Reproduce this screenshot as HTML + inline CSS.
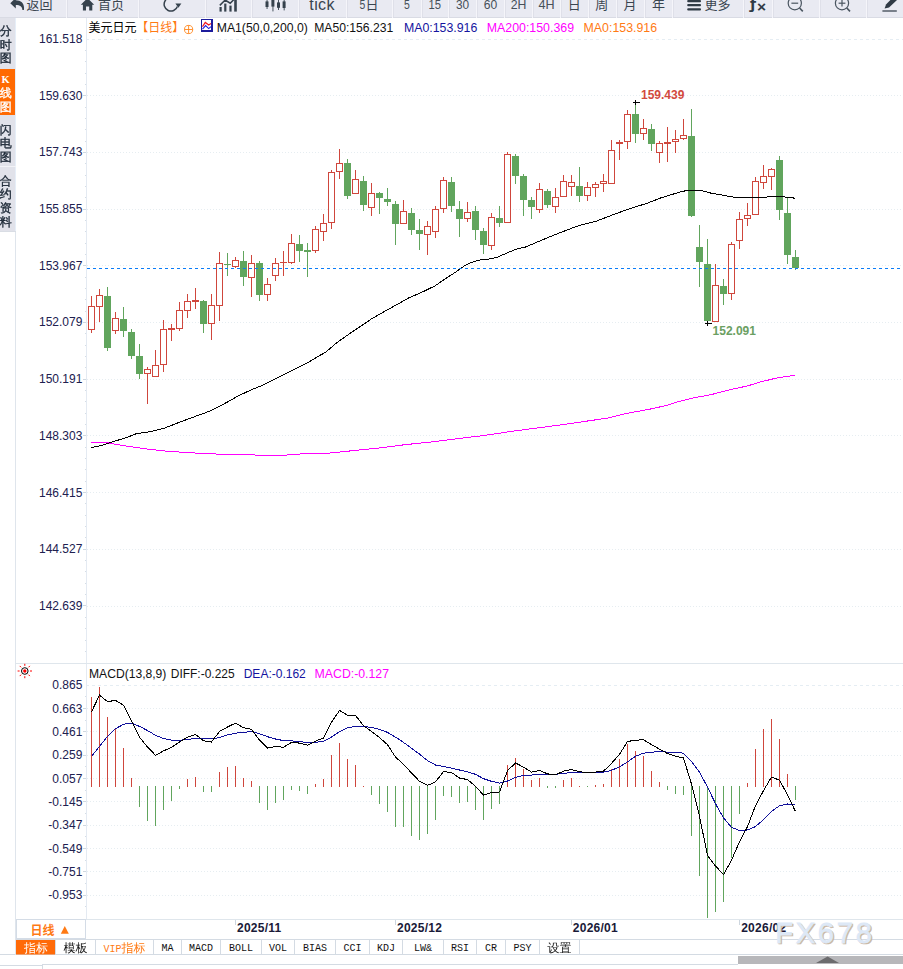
<!DOCTYPE html>
<html lang="zh-CN"><head><meta charset="utf-8"><title>美元日元 日线</title>
<style>
html,body{margin:0;padding:0;background:#fff;}
body{width:903px;height:969px;overflow:hidden;position:relative;font-family:'Liberation Sans','Noto Sans CJK SC',sans-serif;}
svg{position:absolute;left:0;top:0;display:block;}
text{white-space:pre;}
.ax{font:12px 'Liberation Sans','Noto Sans CJK SC',sans-serif;fill:#20204f;text-anchor:end;}
.tt{font:12.3px 'Liberation Sans','Noto Sans CJK SC',sans-serif;}
.tb{font:13px 'Liberation Sans','Noto Sans CJK SC',sans-serif;fill:#3a4550;}
.tn{font:13.4px 'Liberation Sans','Noto Sans CJK SC',sans-serif;fill:#465059;}
.sb{font:12px 'Liberation Mono','WenQuanYi Zen Hei','Noto Sans CJK SC',monospace;fill:#1c2836;stroke:#1c2836;stroke-width:.35px;}
.tab{font:10px 'Liberation Mono','WenQuanYi Zen Hei','Noto Sans CJK SC',monospace;fill:#111;text-anchor:middle;}
.tabc{font:12px 'Liberation Mono','WenQuanYi Zen Hei','Noto Sans CJK SC',monospace;fill:#111;text-anchor:middle;}
.dt{font:bold 12px 'Liberation Sans','Noto Sans CJK SC',sans-serif;fill:#1a1a38;letter-spacing:.25px;}
</style></head><body>
<svg width="903" height="969" viewBox="0 0 903 969">
<rect x="0" y="0" width="903" height="969" fill="#fff"/>
<g shape-rendering="crispEdges">
<line x1="86" y1="39.5" x2="903" y2="39.5" stroke="#e5edf3" stroke-width="1" stroke-dasharray="3 3"/>
<line x1="87" y1="95.5" x2="903" y2="95.5" stroke="#e6edf1" stroke-width="1" stroke-dasharray="1 2"/>
<line x1="87" y1="152.5" x2="903" y2="152.5" stroke="#e6edf1" stroke-width="1" stroke-dasharray="1 2"/>
<line x1="87" y1="209.5" x2="903" y2="209.5" stroke="#e6edf1" stroke-width="1" stroke-dasharray="1 2"/>
<line x1="87" y1="265.5" x2="903" y2="265.5" stroke="#e6edf1" stroke-width="1" stroke-dasharray="1 2"/>
<line x1="87" y1="322.5" x2="903" y2="322.5" stroke="#e6edf1" stroke-width="1" stroke-dasharray="1 2"/>
<line x1="87" y1="379.5" x2="903" y2="379.5" stroke="#e6edf1" stroke-width="1" stroke-dasharray="1 2"/>
<line x1="87" y1="435.5" x2="903" y2="435.5" stroke="#e6edf1" stroke-width="1" stroke-dasharray="1 2"/>
<line x1="87" y1="492.5" x2="903" y2="492.5" stroke="#e6edf1" stroke-width="1" stroke-dasharray="1 2"/>
<line x1="87" y1="549.5" x2="903" y2="549.5" stroke="#e6edf1" stroke-width="1" stroke-dasharray="1 2"/>
<line x1="87" y1="606.5" x2="903" y2="606.5" stroke="#e6edf1" stroke-width="1" stroke-dasharray="1 2"/>
<line x1="86" y1="685.5" x2="903" y2="685.5" stroke="#e5edf3" stroke-width="1" stroke-dasharray="3 3"/>
<line x1="87" y1="708.5" x2="903" y2="708.5" stroke="#e6edf1" stroke-width="1" stroke-dasharray="1 2"/>
<line x1="87" y1="731.5" x2="903" y2="731.5" stroke="#e6edf1" stroke-width="1" stroke-dasharray="1 2"/>
<line x1="87" y1="755.5" x2="903" y2="755.5" stroke="#e6edf1" stroke-width="1" stroke-dasharray="1 2"/>
<line x1="87" y1="778.5" x2="903" y2="778.5" stroke="#e6edf1" stroke-width="1" stroke-dasharray="1 2"/>
<line x1="87" y1="801.5" x2="903" y2="801.5" stroke="#e6edf1" stroke-width="1" stroke-dasharray="1 2"/>
<line x1="87" y1="825.5" x2="903" y2="825.5" stroke="#e6edf1" stroke-width="1" stroke-dasharray="1 2"/>
<line x1="87" y1="848.5" x2="903" y2="848.5" stroke="#e6edf1" stroke-width="1" stroke-dasharray="1 2"/>
<line x1="87" y1="871.5" x2="903" y2="871.5" stroke="#e6edf1" stroke-width="1" stroke-dasharray="1 2"/>
<line x1="87" y1="895.5" x2="903" y2="895.5" stroke="#e6edf1" stroke-width="1" stroke-dasharray="1 2"/>
<line x1="86.5" y1="18" x2="86.5" y2="919" stroke="#e4eaf2" stroke-width="1"/>
<line x1="85" y1="50.5" x2="86" y2="50.5" stroke="#d5dde5"/>
<line x1="85" y1="61.5" x2="86" y2="61.5" stroke="#d5dde5"/>
<line x1="85" y1="73.5" x2="86" y2="73.5" stroke="#d5dde5"/>
<line x1="85" y1="84.5" x2="86" y2="84.5" stroke="#d5dde5"/>
<line x1="83" y1="95.5" x2="86" y2="95.5" stroke="#cfd8e0"/>
<line x1="85" y1="107.5" x2="86" y2="107.5" stroke="#d5dde5"/>
<line x1="85" y1="118.5" x2="86" y2="118.5" stroke="#d5dde5"/>
<line x1="85" y1="129.5" x2="86" y2="129.5" stroke="#d5dde5"/>
<line x1="85" y1="141.5" x2="86" y2="141.5" stroke="#d5dde5"/>
<line x1="83" y1="152.5" x2="86" y2="152.5" stroke="#cfd8e0"/>
<line x1="85" y1="163.5" x2="86" y2="163.5" stroke="#d5dde5"/>
<line x1="85" y1="175.5" x2="86" y2="175.5" stroke="#d5dde5"/>
<line x1="85" y1="186.5" x2="86" y2="186.5" stroke="#d5dde5"/>
<line x1="85" y1="197.5" x2="86" y2="197.5" stroke="#d5dde5"/>
<line x1="83" y1="209.5" x2="86" y2="209.5" stroke="#cfd8e0"/>
<line x1="85" y1="220.5" x2="86" y2="220.5" stroke="#d5dde5"/>
<line x1="85" y1="231.5" x2="86" y2="231.5" stroke="#d5dde5"/>
<line x1="85" y1="243.5" x2="86" y2="243.5" stroke="#d5dde5"/>
<line x1="85" y1="254.5" x2="86" y2="254.5" stroke="#d5dde5"/>
<line x1="83" y1="265.5" x2="86" y2="265.5" stroke="#cfd8e0"/>
<line x1="85" y1="277.5" x2="86" y2="277.5" stroke="#d5dde5"/>
<line x1="85" y1="288.5" x2="86" y2="288.5" stroke="#d5dde5"/>
<line x1="85" y1="299.5" x2="86" y2="299.5" stroke="#d5dde5"/>
<line x1="85" y1="311.5" x2="86" y2="311.5" stroke="#d5dde5"/>
<line x1="83" y1="322.5" x2="86" y2="322.5" stroke="#cfd8e0"/>
<line x1="85" y1="333.5" x2="86" y2="333.5" stroke="#d5dde5"/>
<line x1="85" y1="345.5" x2="86" y2="345.5" stroke="#d5dde5"/>
<line x1="85" y1="356.5" x2="86" y2="356.5" stroke="#d5dde5"/>
<line x1="85" y1="367.5" x2="86" y2="367.5" stroke="#d5dde5"/>
<line x1="83" y1="379.5" x2="86" y2="379.5" stroke="#cfd8e0"/>
<line x1="85" y1="390.5" x2="86" y2="390.5" stroke="#d5dde5"/>
<line x1="85" y1="401.5" x2="86" y2="401.5" stroke="#d5dde5"/>
<line x1="85" y1="413.5" x2="86" y2="413.5" stroke="#d5dde5"/>
<line x1="85" y1="424.5" x2="86" y2="424.5" stroke="#d5dde5"/>
<line x1="83" y1="435.5" x2="86" y2="435.5" stroke="#cfd8e0"/>
<line x1="85" y1="447.5" x2="86" y2="447.5" stroke="#d5dde5"/>
<line x1="85" y1="458.5" x2="86" y2="458.5" stroke="#d5dde5"/>
<line x1="85" y1="469.5" x2="86" y2="469.5" stroke="#d5dde5"/>
<line x1="85" y1="481.5" x2="86" y2="481.5" stroke="#d5dde5"/>
<line x1="83" y1="492.5" x2="86" y2="492.5" stroke="#cfd8e0"/>
<line x1="85" y1="503.5" x2="86" y2="503.5" stroke="#d5dde5"/>
<line x1="85" y1="515.5" x2="86" y2="515.5" stroke="#d5dde5"/>
<line x1="85" y1="526.5" x2="86" y2="526.5" stroke="#d5dde5"/>
<line x1="85" y1="537.5" x2="86" y2="537.5" stroke="#d5dde5"/>
<line x1="83" y1="549.5" x2="86" y2="549.5" stroke="#cfd8e0"/>
<line x1="85" y1="560.5" x2="86" y2="560.5" stroke="#d5dde5"/>
<line x1="85" y1="571.5" x2="86" y2="571.5" stroke="#d5dde5"/>
<line x1="85" y1="583.5" x2="86" y2="583.5" stroke="#d5dde5"/>
<line x1="85" y1="594.5" x2="86" y2="594.5" stroke="#d5dde5"/>
<line x1="83" y1="605.5" x2="86" y2="605.5" stroke="#cfd8e0"/>
<line x1="85" y1="617.5" x2="86" y2="617.5" stroke="#d5dde5"/>
<line x1="85" y1="628.5" x2="86" y2="628.5" stroke="#d5dde5"/>
<line x1="85" y1="640.5" x2="86" y2="640.5" stroke="#d5dde5"/>
<line x1="85" y1="651.5" x2="86" y2="651.5" stroke="#d5dde5"/>
<line x1="85" y1="696.5" x2="86" y2="696.5" stroke="#d5dde5"/>
<line x1="83" y1="708.5" x2="86" y2="708.5" stroke="#cfd8e0"/>
<line x1="85" y1="720.5" x2="86" y2="720.5" stroke="#d5dde5"/>
<line x1="83" y1="731.5" x2="86" y2="731.5" stroke="#cfd8e0"/>
<line x1="85" y1="743.5" x2="86" y2="743.5" stroke="#d5dde5"/>
<line x1="83" y1="755.5" x2="86" y2="755.5" stroke="#cfd8e0"/>
<line x1="85" y1="766.5" x2="86" y2="766.5" stroke="#d5dde5"/>
<line x1="83" y1="778.5" x2="86" y2="778.5" stroke="#cfd8e0"/>
<line x1="85" y1="790.5" x2="86" y2="790.5" stroke="#d5dde5"/>
<line x1="83" y1="801.5" x2="86" y2="801.5" stroke="#cfd8e0"/>
<line x1="85" y1="813.5" x2="86" y2="813.5" stroke="#d5dde5"/>
<line x1="83" y1="825.5" x2="86" y2="825.5" stroke="#cfd8e0"/>
<line x1="85" y1="836.5" x2="86" y2="836.5" stroke="#d5dde5"/>
<line x1="83" y1="848.5" x2="86" y2="848.5" stroke="#cfd8e0"/>
<line x1="85" y1="860.5" x2="86" y2="860.5" stroke="#d5dde5"/>
<line x1="83" y1="871.5" x2="86" y2="871.5" stroke="#cfd8e0"/>
<line x1="85" y1="883.5" x2="86" y2="883.5" stroke="#d5dde5"/>
<line x1="83" y1="895.5" x2="86" y2="895.5" stroke="#cfd8e0"/>
<line x1="85" y1="906.5" x2="86" y2="906.5" stroke="#d5dde5"/>
<line x1="16" y1="663.5" x2="903" y2="663.5" stroke="#dfe6ec"/>
<line x1="16" y1="919.5" x2="903" y2="919.5" stroke="#dfe6ec"/>
<line x1="16" y1="939.5" x2="903" y2="939.5" stroke="#d4dbe3"/>
<line x1="0" y1="954.5" x2="903" y2="954.5" stroke="#d4dbe3"/>
<line x1="15.5" y1="231" x2="15.5" y2="955" stroke="#dfe5ec"/>
</g>
<g shape-rendering="crispEdges" stroke-width="1">
<line x1="91.5" y1="296" x2="91.5" y2="306" stroke="#cf463c"/>
<line x1="91.5" y1="330" x2="91.5" y2="333" stroke="#cf463c"/>
<rect x="88.5" y="306.5" width="6" height="23" fill="#fff" stroke="#cf463c"/>
<line x1="99.5" y1="289" x2="99.5" y2="295" stroke="#cf463c"/>
<line x1="99.5" y1="307" x2="99.5" y2="322" stroke="#cf463c"/>
<rect x="96.5" y="295.5" width="6" height="11" fill="#fff" stroke="#cf463c"/>
<line x1="107.5" y1="287" x2="107.5" y2="351" stroke="#61a55d"/>
<rect x="104" y="296" width="7" height="52" fill="#61a55d"/>
<line x1="115.5" y1="312" x2="115.5" y2="318" stroke="#cf463c"/>
<line x1="115.5" y1="331" x2="115.5" y2="334" stroke="#cf463c"/>
<rect x="112.5" y="318.5" width="6" height="12" fill="#fff" stroke="#cf463c"/>
<line x1="123.5" y1="307" x2="123.5" y2="337" stroke="#61a55d"/>
<rect x="120" y="319" width="7" height="12" fill="#61a55d"/>
<line x1="131.5" y1="329" x2="131.5" y2="359" stroke="#61a55d"/>
<rect x="128" y="332" width="7" height="24" fill="#61a55d"/>
<line x1="139.5" y1="344" x2="139.5" y2="379" stroke="#61a55d"/>
<rect x="136" y="356" width="7" height="18" fill="#61a55d"/>
<line x1="147.5" y1="367" x2="147.5" y2="369" stroke="#cf463c"/>
<line x1="147.5" y1="374" x2="147.5" y2="404" stroke="#cf463c"/>
<rect x="144.5" y="369.5" width="6" height="4" fill="#fff" stroke="#cf463c"/>
<line x1="155.5" y1="350" x2="155.5" y2="365" stroke="#cf463c"/>
<rect x="152.5" y="365.5" width="6" height="11" fill="#fff" stroke="#cf463c"/>
<line x1="163.5" y1="320" x2="163.5" y2="329" stroke="#cf463c"/>
<line x1="163.5" y1="365" x2="163.5" y2="372" stroke="#cf463c"/>
<rect x="160.5" y="329.5" width="6" height="35" fill="#fff" stroke="#cf463c"/>
<line x1="171.5" y1="324" x2="171.5" y2="328" stroke="#cf463c"/>
<line x1="171.5" y1="330" x2="171.5" y2="341" stroke="#cf463c"/>
<rect x="168" y="328" width="7" height="2" fill="#cf463c"/>
<line x1="179.5" y1="302" x2="179.5" y2="310" stroke="#cf463c"/>
<line x1="179.5" y1="329" x2="179.5" y2="331" stroke="#cf463c"/>
<rect x="176.5" y="310.5" width="6" height="18" fill="#fff" stroke="#cf463c"/>
<line x1="187.5" y1="294" x2="187.5" y2="301" stroke="#cf463c"/>
<line x1="187.5" y1="311" x2="187.5" y2="318" stroke="#cf463c"/>
<rect x="184.5" y="301.5" width="6" height="9" fill="#fff" stroke="#cf463c"/>
<line x1="195.5" y1="288" x2="195.5" y2="300" stroke="#cf463c"/>
<line x1="195.5" y1="302" x2="195.5" y2="309" stroke="#cf463c"/>
<rect x="192" y="300" width="7" height="2" fill="#cf463c"/>
<line x1="203.5" y1="300" x2="203.5" y2="333" stroke="#61a55d"/>
<rect x="200" y="301" width="7" height="23" fill="#61a55d"/>
<line x1="211.5" y1="294" x2="211.5" y2="305" stroke="#cf463c"/>
<line x1="211.5" y1="324" x2="211.5" y2="340" stroke="#cf463c"/>
<rect x="208.5" y="305.5" width="6" height="18" fill="#fff" stroke="#cf463c"/>
<line x1="219.5" y1="252" x2="219.5" y2="263" stroke="#cf463c"/>
<line x1="219.5" y1="306" x2="219.5" y2="321" stroke="#cf463c"/>
<rect x="216.5" y="263.5" width="6" height="42" fill="#fff" stroke="#cf463c"/>
<line x1="227.5" y1="253" x2="227.5" y2="276" stroke="#61a55d"/>
<rect x="224" y="264" width="7" height="1" fill="#61a55d"/>
<line x1="235.5" y1="257" x2="235.5" y2="260" stroke="#cf463c"/>
<line x1="235.5" y1="267" x2="235.5" y2="268" stroke="#cf463c"/>
<rect x="232.5" y="260.5" width="6" height="6" fill="#fff" stroke="#cf463c"/>
<line x1="243.5" y1="251" x2="243.5" y2="286" stroke="#61a55d"/>
<rect x="240" y="261" width="7" height="16" fill="#61a55d"/>
<line x1="251.5" y1="255" x2="251.5" y2="263" stroke="#cf463c"/>
<line x1="251.5" y1="278" x2="251.5" y2="297" stroke="#cf463c"/>
<rect x="248.5" y="263.5" width="6" height="14" fill="#fff" stroke="#cf463c"/>
<line x1="259.5" y1="261" x2="259.5" y2="301" stroke="#61a55d"/>
<rect x="256" y="263" width="7" height="32" fill="#61a55d"/>
<line x1="267.5" y1="278" x2="267.5" y2="284" stroke="#cf463c"/>
<line x1="267.5" y1="295" x2="267.5" y2="301" stroke="#cf463c"/>
<rect x="264.5" y="284.5" width="6" height="10" fill="#fff" stroke="#cf463c"/>
<line x1="275.5" y1="258" x2="275.5" y2="263" stroke="#cf463c"/>
<line x1="275.5" y1="276" x2="275.5" y2="281" stroke="#cf463c"/>
<rect x="272.5" y="263.5" width="6" height="12" fill="#fff" stroke="#cf463c"/>
<line x1="283.5" y1="251" x2="283.5" y2="262" stroke="#cf463c"/>
<line x1="283.5" y1="263" x2="283.5" y2="276" stroke="#cf463c"/>
<rect x="280" y="262" width="7" height="1" fill="#cf463c"/>
<line x1="291.5" y1="234" x2="291.5" y2="243" stroke="#cf463c"/>
<line x1="291.5" y1="263" x2="291.5" y2="264" stroke="#cf463c"/>
<rect x="288.5" y="243.5" width="6" height="19" fill="#fff" stroke="#cf463c"/>
<line x1="299.5" y1="235" x2="299.5" y2="262" stroke="#61a55d"/>
<rect x="296" y="244" width="7" height="7" fill="#61a55d"/>
<line x1="307.5" y1="243" x2="307.5" y2="277" stroke="#61a55d"/>
<rect x="304" y="250" width="7" height="2" fill="#61a55d"/>
<line x1="315.5" y1="226" x2="315.5" y2="229" stroke="#cf463c"/>
<line x1="315.5" y1="251" x2="315.5" y2="253" stroke="#cf463c"/>
<rect x="312.5" y="229.5" width="6" height="21" fill="#fff" stroke="#cf463c"/>
<line x1="323.5" y1="214" x2="323.5" y2="223" stroke="#cf463c"/>
<line x1="323.5" y1="232" x2="323.5" y2="241" stroke="#cf463c"/>
<rect x="320.5" y="223.5" width="6" height="8" fill="#fff" stroke="#cf463c"/>
<line x1="331.5" y1="170" x2="331.5" y2="172" stroke="#cf463c"/>
<line x1="331.5" y1="223" x2="331.5" y2="229" stroke="#cf463c"/>
<rect x="328.5" y="172.5" width="6" height="50" fill="#fff" stroke="#cf463c"/>
<line x1="339.5" y1="149" x2="339.5" y2="163" stroke="#cf463c"/>
<line x1="339.5" y1="172" x2="339.5" y2="179" stroke="#cf463c"/>
<rect x="336.5" y="163.5" width="6" height="8" fill="#fff" stroke="#cf463c"/>
<line x1="347.5" y1="159" x2="347.5" y2="199" stroke="#61a55d"/>
<rect x="344" y="163" width="7" height="33" fill="#61a55d"/>
<line x1="355.5" y1="170" x2="355.5" y2="179" stroke="#cf463c"/>
<rect x="352.5" y="179.5" width="6" height="14" fill="#fff" stroke="#cf463c"/>
<line x1="363.5" y1="176" x2="363.5" y2="211" stroke="#61a55d"/>
<rect x="360" y="181" width="7" height="24" fill="#61a55d"/>
<line x1="371.5" y1="183" x2="371.5" y2="193" stroke="#cf463c"/>
<line x1="371.5" y1="208" x2="371.5" y2="216" stroke="#cf463c"/>
<rect x="368.5" y="193.5" width="6" height="14" fill="#fff" stroke="#cf463c"/>
<line x1="379.5" y1="192" x2="379.5" y2="214" stroke="#61a55d"/>
<rect x="376" y="193" width="7" height="5" fill="#61a55d"/>
<line x1="387.5" y1="188" x2="387.5" y2="206" stroke="#61a55d"/>
<rect x="384" y="199" width="7" height="3" fill="#61a55d"/>
<line x1="395.5" y1="201" x2="395.5" y2="245" stroke="#61a55d"/>
<rect x="392" y="204" width="7" height="20" fill="#61a55d"/>
<line x1="403.5" y1="200" x2="403.5" y2="211" stroke="#cf463c"/>
<rect x="400.5" y="211.5" width="6" height="12" fill="#fff" stroke="#cf463c"/>
<line x1="411.5" y1="208" x2="411.5" y2="235" stroke="#61a55d"/>
<rect x="408" y="213" width="7" height="17" fill="#61a55d"/>
<line x1="419.5" y1="219" x2="419.5" y2="250" stroke="#61a55d"/>
<rect x="416" y="230" width="7" height="4" fill="#61a55d"/>
<line x1="427.5" y1="221" x2="427.5" y2="226" stroke="#cf463c"/>
<line x1="427.5" y1="235" x2="427.5" y2="255" stroke="#cf463c"/>
<rect x="424.5" y="226.5" width="6" height="8" fill="#fff" stroke="#cf463c"/>
<line x1="435.5" y1="206" x2="435.5" y2="209" stroke="#cf463c"/>
<line x1="435.5" y1="232" x2="435.5" y2="238" stroke="#cf463c"/>
<rect x="432.5" y="209.5" width="6" height="22" fill="#fff" stroke="#cf463c"/>
<line x1="443.5" y1="177" x2="443.5" y2="180" stroke="#cf463c"/>
<line x1="443.5" y1="209" x2="443.5" y2="213" stroke="#cf463c"/>
<rect x="440.5" y="180.5" width="6" height="28" fill="#fff" stroke="#cf463c"/>
<line x1="451.5" y1="177" x2="451.5" y2="212" stroke="#61a55d"/>
<rect x="448" y="182" width="7" height="24" fill="#61a55d"/>
<line x1="459.5" y1="201" x2="459.5" y2="237" stroke="#61a55d"/>
<rect x="456" y="209" width="7" height="10" fill="#61a55d"/>
<line x1="467.5" y1="202" x2="467.5" y2="212" stroke="#cf463c"/>
<line x1="467.5" y1="219" x2="467.5" y2="222" stroke="#cf463c"/>
<rect x="464.5" y="212.5" width="6" height="6" fill="#fff" stroke="#cf463c"/>
<line x1="475.5" y1="206" x2="475.5" y2="240" stroke="#61a55d"/>
<rect x="472" y="211" width="7" height="19" fill="#61a55d"/>
<line x1="483.5" y1="228" x2="483.5" y2="254" stroke="#61a55d"/>
<rect x="480" y="231" width="7" height="14" fill="#61a55d"/>
<line x1="491.5" y1="213" x2="491.5" y2="217" stroke="#cf463c"/>
<line x1="491.5" y1="246" x2="491.5" y2="250" stroke="#cf463c"/>
<rect x="488.5" y="217.5" width="6" height="28" fill="#fff" stroke="#cf463c"/>
<line x1="499.5" y1="206" x2="499.5" y2="227" stroke="#61a55d"/>
<rect x="496" y="218" width="7" height="5" fill="#61a55d"/>
<line x1="507.5" y1="152" x2="507.5" y2="154" stroke="#cf463c"/>
<rect x="504.5" y="154.5" width="6" height="68" fill="#fff" stroke="#cf463c"/>
<line x1="515.5" y1="154" x2="515.5" y2="184" stroke="#61a55d"/>
<rect x="512" y="156" width="7" height="20" fill="#61a55d"/>
<line x1="523.5" y1="174" x2="523.5" y2="216" stroke="#61a55d"/>
<rect x="520" y="176" width="7" height="24" fill="#61a55d"/>
<line x1="531.5" y1="197" x2="531.5" y2="219" stroke="#61a55d"/>
<rect x="528" y="200" width="7" height="7" fill="#61a55d"/>
<line x1="539.5" y1="183" x2="539.5" y2="189" stroke="#cf463c"/>
<line x1="539.5" y1="210" x2="539.5" y2="213" stroke="#cf463c"/>
<rect x="536.5" y="189.5" width="6" height="20" fill="#fff" stroke="#cf463c"/>
<line x1="547.5" y1="189" x2="547.5" y2="208" stroke="#61a55d"/>
<rect x="544" y="191" width="7" height="14" fill="#61a55d"/>
<line x1="555.5" y1="188" x2="555.5" y2="197" stroke="#cf463c"/>
<line x1="555.5" y1="207" x2="555.5" y2="213" stroke="#cf463c"/>
<rect x="552.5" y="197.5" width="6" height="9" fill="#fff" stroke="#cf463c"/>
<line x1="563.5" y1="175" x2="563.5" y2="181" stroke="#cf463c"/>
<rect x="560.5" y="181.5" width="6" height="15" fill="#fff" stroke="#cf463c"/>
<line x1="571.5" y1="175" x2="571.5" y2="182" stroke="#cf463c"/>
<line x1="571.5" y1="187" x2="571.5" y2="196" stroke="#cf463c"/>
<rect x="568.5" y="182.5" width="6" height="4" fill="#fff" stroke="#cf463c"/>
<line x1="579.5" y1="167" x2="579.5" y2="202" stroke="#61a55d"/>
<rect x="576" y="186" width="7" height="10" fill="#61a55d"/>
<line x1="587.5" y1="182" x2="587.5" y2="187" stroke="#cf463c"/>
<line x1="587.5" y1="196" x2="587.5" y2="201" stroke="#cf463c"/>
<rect x="584.5" y="187.5" width="6" height="8" fill="#fff" stroke="#cf463c"/>
<line x1="595.5" y1="182" x2="595.5" y2="184" stroke="#cf463c"/>
<line x1="595.5" y1="188" x2="595.5" y2="197" stroke="#cf463c"/>
<rect x="592.5" y="184.5" width="6" height="3" fill="#fff" stroke="#cf463c"/>
<line x1="603.5" y1="174" x2="603.5" y2="181" stroke="#cf463c"/>
<line x1="603.5" y1="184" x2="603.5" y2="192" stroke="#cf463c"/>
<rect x="600.5" y="181.5" width="6" height="2" fill="#fff" stroke="#cf463c"/>
<line x1="611.5" y1="140" x2="611.5" y2="150" stroke="#cf463c"/>
<rect x="608.5" y="150.5" width="6" height="33" fill="#fff" stroke="#cf463c"/>
<line x1="619.5" y1="140" x2="619.5" y2="142" stroke="#cf463c"/>
<line x1="619.5" y1="144" x2="619.5" y2="160" stroke="#cf463c"/>
<rect x="616" y="142" width="7" height="2" fill="#cf463c"/>
<line x1="627.5" y1="110" x2="627.5" y2="114" stroke="#cf463c"/>
<line x1="627.5" y1="142" x2="627.5" y2="149" stroke="#cf463c"/>
<rect x="624.5" y="114.5" width="6" height="27" fill="#fff" stroke="#cf463c"/>
<line x1="635.5" y1="102" x2="635.5" y2="143" stroke="#61a55d"/>
<rect x="632" y="114" width="7" height="20" fill="#61a55d"/>
<line x1="643.5" y1="119" x2="643.5" y2="128" stroke="#cf463c"/>
<line x1="643.5" y1="134" x2="643.5" y2="140" stroke="#cf463c"/>
<rect x="640.5" y="128.5" width="6" height="5" fill="#fff" stroke="#cf463c"/>
<line x1="651.5" y1="124" x2="651.5" y2="151" stroke="#61a55d"/>
<rect x="648" y="129" width="7" height="15" fill="#61a55d"/>
<line x1="659.5" y1="141" x2="659.5" y2="143" stroke="#cf463c"/>
<line x1="659.5" y1="153" x2="659.5" y2="163" stroke="#cf463c"/>
<rect x="656.5" y="143.5" width="6" height="9" fill="#fff" stroke="#cf463c"/>
<line x1="667.5" y1="127" x2="667.5" y2="142" stroke="#cf463c"/>
<line x1="667.5" y1="144" x2="667.5" y2="162" stroke="#cf463c"/>
<rect x="664" y="142" width="7" height="2" fill="#cf463c"/>
<line x1="675.5" y1="130" x2="675.5" y2="139" stroke="#cf463c"/>
<line x1="675.5" y1="142" x2="675.5" y2="153" stroke="#cf463c"/>
<rect x="672.5" y="139.5" width="6" height="2" fill="#fff" stroke="#cf463c"/>
<line x1="683.5" y1="119" x2="683.5" y2="135" stroke="#cf463c"/>
<line x1="683.5" y1="139" x2="683.5" y2="140" stroke="#cf463c"/>
<rect x="680.5" y="135.5" width="6" height="3" fill="#fff" stroke="#cf463c"/>
<line x1="691.5" y1="109" x2="691.5" y2="217" stroke="#61a55d"/>
<rect x="688" y="136" width="7" height="80" fill="#61a55d"/>
<line x1="699.5" y1="225" x2="699.5" y2="287" stroke="#61a55d"/>
<rect x="696" y="247" width="7" height="15" fill="#61a55d"/>
<line x1="707.5" y1="239" x2="707.5" y2="321" stroke="#61a55d"/>
<rect x="704" y="264" width="7" height="57" fill="#61a55d"/>
<line x1="715.5" y1="264" x2="715.5" y2="285" stroke="#cf463c"/>
<rect x="712.5" y="285.5" width="6" height="36" fill="#fff" stroke="#cf463c"/>
<line x1="723.5" y1="279" x2="723.5" y2="305" stroke="#61a55d"/>
<rect x="720" y="286" width="7" height="8" fill="#61a55d"/>
<line x1="731.5" y1="242" x2="731.5" y2="244" stroke="#cf463c"/>
<line x1="731.5" y1="294" x2="731.5" y2="300" stroke="#cf463c"/>
<rect x="728.5" y="244.5" width="6" height="49" fill="#fff" stroke="#cf463c"/>
<line x1="739.5" y1="212" x2="739.5" y2="219" stroke="#cf463c"/>
<line x1="739.5" y1="241" x2="739.5" y2="249" stroke="#cf463c"/>
<rect x="736.5" y="219.5" width="6" height="21" fill="#fff" stroke="#cf463c"/>
<line x1="747.5" y1="203" x2="747.5" y2="215" stroke="#cf463c"/>
<line x1="747.5" y1="219" x2="747.5" y2="226" stroke="#cf463c"/>
<rect x="744.5" y="215.5" width="6" height="3" fill="#fff" stroke="#cf463c"/>
<line x1="755.5" y1="177" x2="755.5" y2="181" stroke="#cf463c"/>
<rect x="752.5" y="181.5" width="6" height="33" fill="#fff" stroke="#cf463c"/>
<line x1="763.5" y1="165" x2="763.5" y2="176" stroke="#cf463c"/>
<line x1="763.5" y1="183" x2="763.5" y2="189" stroke="#cf463c"/>
<rect x="760.5" y="176.5" width="6" height="6" fill="#fff" stroke="#cf463c"/>
<line x1="771.5" y1="168" x2="771.5" y2="169" stroke="#cf463c"/>
<line x1="771.5" y1="177" x2="771.5" y2="190" stroke="#cf463c"/>
<rect x="768.5" y="169.5" width="6" height="7" fill="#fff" stroke="#cf463c"/>
<line x1="779.5" y1="156" x2="779.5" y2="220" stroke="#61a55d"/>
<rect x="776" y="160" width="7" height="50" fill="#61a55d"/>
<line x1="787.5" y1="198" x2="787.5" y2="264" stroke="#61a55d"/>
<rect x="784" y="213" width="7" height="42" fill="#61a55d"/>
<line x1="795.5" y1="250" x2="795.5" y2="270" stroke="#61a55d"/>
<rect x="792" y="257" width="7" height="11" fill="#61a55d"/>
</g>
<polyline fill="none" stroke="#000" stroke-width="1" shape-rendering="crispEdges" points="91.3,447.6 101.9,445.5 112.6,441.8 125.9,437.8 136.5,433.6 149.8,431.7 164.4,428.2 179,422.4 195,416.5 209.6,411.2 224.2,403.8 237.5,396.3 250.8,390 261.4,385.7 277.4,377.7 293.3,369.8 309.3,361.8 319.9,355.4 326,352 336.6,342.8 349.9,333.5 360.6,326.3 371.2,319.1 381.8,313 395.1,305.6 408.4,298.1 421.7,292.3 435,285.9 445.6,278.5 456.2,271.8 464.2,266 470.9,262.5 480.2,259.9 490.8,258.8 497.4,257.2 509.4,251.9 517.4,248.7 525.3,247.1 536,242.6 546.6,238.1 557.2,233.8 566,230.4 579.9,225.2 596.7,221 613.4,214.6 630.1,208.5 646.8,203.4 660.8,197.9 671.9,194.5 683.1,191.2 689,190.4 701,190.4 710.9,193.1 722.1,195.1 736,197.5 766.3,197.5 767.6,196.4 783.7,196.4 785,197.1 791.8,197.4 795.1,198.6"/>
<polyline fill="none" stroke="#ff00ff" stroke-width="1" shape-rendering="crispEdges" points="91.3,442.1 104.6,442.3 115.2,444.2 131.2,446.8 147.1,449 165.7,451.1 184.3,452.4 202.9,453.5 224.2,454.3 245.5,454.6 264.1,455.4 285.3,455.4 288,454.6 303.9,453.8 326,453.4 352.6,450.7 379.2,448 405.7,444.6 432.3,441.9 458.9,438.5 485.5,435.3 512,431.3 538.6,427.8 566,424.2 588.3,420.9 607.8,418.1 627.3,413.3 649.6,409.2 666.3,405.5 677.5,401.9 694.2,397.7 710.9,394.7 727.7,390.2 747.2,386 761.1,381.8 777.9,377.7 794.6,375.4"/>
<line x1="87" y1="268.5" x2="903" y2="268.5" stroke="#0a7cf7" stroke-width="1" stroke-dasharray="3 3" shape-rendering="crispEdges"/>
<g stroke="#000" stroke-width="1" shape-rendering="crispEdges">
<line x1="633" y1="102.5" x2="640" y2="102.5"/><line x1="635.5" y1="100" x2="635.5" y2="105"/>
<line x1="705" y1="323.5" x2="712" y2="323.5"/><line x1="707.5" y1="321" x2="707.5" y2="326"/>
</g>
<text x="641" y="99.3" style="font:bold 12px 'Liberation Sans','Noto Sans CJK SC',sans-serif;fill:#d24a3e">159.439</text>
<text x="712.6" y="335.2" style="font:bold 12px 'Liberation Sans','Noto Sans CJK SC',sans-serif;fill:#6ba062">152.091</text>
<g shape-rendering="crispEdges" stroke-width="1">
<line x1="91.5" y1="697" x2="91.5" y2="787" stroke="#cf463c"/>
<line x1="99.5" y1="687" x2="99.5" y2="787" stroke="#cf463c"/>
<line x1="107.5" y1="717" x2="107.5" y2="787" stroke="#cf463c"/>
<line x1="115.5" y1="728" x2="115.5" y2="787" stroke="#cf463c"/>
<line x1="123.5" y1="748" x2="123.5" y2="787" stroke="#cf463c"/>
<line x1="131.5" y1="778" x2="131.5" y2="787" stroke="#cf463c"/>
<line x1="139.5" y1="786" x2="139.5" y2="807" stroke="#61a55d"/>
<line x1="147.5" y1="786" x2="147.5" y2="821" stroke="#61a55d"/>
<line x1="155.5" y1="786" x2="155.5" y2="826" stroke="#61a55d"/>
<line x1="163.5" y1="786" x2="163.5" y2="810" stroke="#61a55d"/>
<line x1="171.5" y1="786" x2="171.5" y2="801" stroke="#61a55d"/>
<line x1="179.5" y1="786" x2="179.5" y2="789" stroke="#61a55d"/>
<line x1="187.5" y1="779" x2="187.5" y2="787" stroke="#cf463c"/>
<line x1="195.5" y1="777" x2="195.5" y2="787" stroke="#cf463c"/>
<line x1="203.5" y1="786" x2="203.5" y2="792" stroke="#61a55d"/>
<line x1="211.5" y1="786" x2="211.5" y2="792" stroke="#61a55d"/>
<line x1="219.5" y1="772" x2="219.5" y2="787" stroke="#cf463c"/>
<line x1="227.5" y1="767" x2="227.5" y2="787" stroke="#cf463c"/>
<line x1="235.5" y1="766" x2="235.5" y2="787" stroke="#cf463c"/>
<line x1="243.5" y1="778" x2="243.5" y2="787" stroke="#cf463c"/>
<line x1="251.5" y1="781" x2="251.5" y2="787" stroke="#cf463c"/>
<line x1="259.5" y1="786" x2="259.5" y2="803" stroke="#61a55d"/>
<line x1="267.5" y1="786" x2="267.5" y2="810" stroke="#61a55d"/>
<line x1="275.5" y1="786" x2="275.5" y2="803" stroke="#61a55d"/>
<line x1="283.5" y1="786" x2="283.5" y2="800" stroke="#61a55d"/>
<line x1="291.5" y1="786" x2="291.5" y2="790" stroke="#61a55d"/>
<line x1="299.5" y1="786" x2="299.5" y2="791" stroke="#61a55d"/>
<line x1="307.5" y1="786" x2="307.5" y2="794" stroke="#61a55d"/>
<line x1="315.5" y1="784" x2="315.5" y2="787" stroke="#cf463c"/>
<line x1="323.5" y1="779" x2="323.5" y2="787" stroke="#cf463c"/>
<line x1="331.5" y1="755" x2="331.5" y2="787" stroke="#cf463c"/>
<line x1="339.5" y1="743" x2="339.5" y2="787" stroke="#cf463c"/>
<line x1="347.5" y1="759" x2="347.5" y2="787" stroke="#cf463c"/>
<line x1="355.5" y1="765" x2="355.5" y2="787" stroke="#cf463c"/>
<line x1="363.5" y1="786" x2="363.5" y2="787" stroke="#cf463c"/>
<line x1="371.5" y1="786" x2="371.5" y2="795" stroke="#61a55d"/>
<line x1="379.5" y1="786" x2="379.5" y2="804" stroke="#61a55d"/>
<line x1="387.5" y1="786" x2="387.5" y2="812" stroke="#61a55d"/>
<line x1="395.5" y1="786" x2="395.5" y2="827" stroke="#61a55d"/>
<line x1="403.5" y1="786" x2="403.5" y2="827" stroke="#61a55d"/>
<line x1="411.5" y1="786" x2="411.5" y2="836" stroke="#61a55d"/>
<line x1="419.5" y1="786" x2="419.5" y2="840" stroke="#61a55d"/>
<line x1="427.5" y1="786" x2="427.5" y2="834" stroke="#61a55d"/>
<line x1="435.5" y1="786" x2="435.5" y2="820" stroke="#61a55d"/>
<line x1="443.5" y1="786" x2="443.5" y2="796" stroke="#61a55d"/>
<line x1="451.5" y1="786" x2="451.5" y2="797" stroke="#61a55d"/>
<line x1="459.5" y1="786" x2="459.5" y2="803" stroke="#61a55d"/>
<line x1="467.5" y1="786" x2="467.5" y2="802" stroke="#61a55d"/>
<line x1="475.5" y1="786" x2="475.5" y2="810" stroke="#61a55d"/>
<line x1="483.5" y1="786" x2="483.5" y2="820" stroke="#61a55d"/>
<line x1="491.5" y1="786" x2="491.5" y2="809" stroke="#61a55d"/>
<line x1="499.5" y1="786" x2="499.5" y2="804" stroke="#61a55d"/>
<line x1="507.5" y1="765" x2="507.5" y2="787" stroke="#cf463c"/>
<line x1="515.5" y1="758" x2="515.5" y2="787" stroke="#cf463c"/>
<line x1="523.5" y1="769" x2="523.5" y2="787" stroke="#cf463c"/>
<line x1="531.5" y1="780" x2="531.5" y2="787" stroke="#cf463c"/>
<line x1="539.5" y1="778" x2="539.5" y2="787" stroke="#cf463c"/>
<line x1="547.5" y1="786" x2="547.5" y2="788" stroke="#61a55d"/>
<line x1="555.5" y1="786" x2="555.5" y2="788" stroke="#61a55d"/>
<line x1="563.5" y1="780" x2="563.5" y2="787" stroke="#cf463c"/>
<line x1="571.5" y1="778" x2="571.5" y2="787" stroke="#cf463c"/>
<line x1="579.5" y1="786" x2="579.5" y2="787" stroke="#cf463c"/>
<line x1="587.5" y1="786" x2="587.5" y2="787" stroke="#61a55d"/>
<line x1="595.5" y1="785" x2="595.5" y2="787" stroke="#cf463c"/>
<line x1="603.5" y1="784" x2="603.5" y2="787" stroke="#cf463c"/>
<line x1="611.5" y1="769" x2="611.5" y2="787" stroke="#cf463c"/>
<line x1="619.5" y1="759" x2="619.5" y2="787" stroke="#cf463c"/>
<line x1="627.5" y1="744" x2="627.5" y2="787" stroke="#cf463c"/>
<line x1="635.5" y1="751" x2="635.5" y2="787" stroke="#cf463c"/>
<line x1="643.5" y1="756" x2="643.5" y2="787" stroke="#cf463c"/>
<line x1="651.5" y1="771" x2="651.5" y2="787" stroke="#cf463c"/>
<line x1="659.5" y1="782" x2="659.5" y2="787" stroke="#cf463c"/>
<line x1="667.5" y1="786" x2="667.5" y2="790" stroke="#61a55d"/>
<line x1="675.5" y1="786" x2="675.5" y2="794" stroke="#61a55d"/>
<line x1="683.5" y1="786" x2="683.5" y2="795" stroke="#61a55d"/>
<line x1="691.5" y1="786" x2="691.5" y2="836" stroke="#61a55d"/>
<line x1="699.5" y1="786" x2="699.5" y2="876" stroke="#61a55d"/>
<line x1="707.5" y1="786" x2="707.5" y2="918" stroke="#61a55d"/>
<line x1="715.5" y1="786" x2="715.5" y2="912" stroke="#61a55d"/>
<line x1="723.5" y1="786" x2="723.5" y2="902" stroke="#61a55d"/>
<line x1="731.5" y1="786" x2="731.5" y2="858" stroke="#61a55d"/>
<line x1="739.5" y1="786" x2="739.5" y2="814" stroke="#61a55d"/>
<line x1="747.5" y1="783" x2="747.5" y2="787" stroke="#cf463c"/>
<line x1="755.5" y1="749" x2="755.5" y2="787" stroke="#cf463c"/>
<line x1="763.5" y1="729" x2="763.5" y2="787" stroke="#cf463c"/>
<line x1="771.5" y1="719" x2="771.5" y2="787" stroke="#cf463c"/>
<line x1="779.5" y1="739" x2="779.5" y2="787" stroke="#cf463c"/>
<line x1="787.5" y1="774" x2="787.5" y2="787" stroke="#cf463c"/>
<line x1="795.5" y1="786" x2="795.5" y2="800" stroke="#61a55d"/>
</g>
<polyline fill="none" stroke="#10109a" stroke-width="1" shape-rendering="crispEdges" points="91.5,756.5 99.5,746.4 107.5,736.3 115.5,728.7 123.5,724.3 131.5,723.1 139.5,726.4 147.5,730.5 155.5,735.3 163.5,738.5 171.5,740.2 179.5,740.2 187.5,739.5 195.5,738.5 203.5,738.8 211.5,738.8 219.5,737.6 227.5,734.9 235.5,733.2 243.5,732.4 251.5,731.4 259.5,733.7 267.5,736.7 275.5,739 283.5,740.6 291.5,740.8 299.5,741.7 307.5,742.5 315.5,742.4 323.5,741.1 331.5,737.1 339.5,731.7 347.5,727.8 355.5,726.4 363.5,726.4 371.5,727.5 379.5,729.3 387.5,732.4 395.5,737.1 403.5,742.4 411.5,748.2 419.5,754.1 427.5,760.6 435.5,765 443.5,766.5 451.5,768.1 459.5,770 467.5,771.8 475.5,774.3 483.5,778.7 491.5,781.3 499.5,783.1 507.5,781 515.5,777.4 523.5,775.3 531.5,775.1 539.5,774.3 547.5,774.3 555.5,774.3 563.5,773.4 571.5,772.5 579.5,772.5 587.5,772.5 595.5,772.5 603.5,772.1 611.5,770.4 619.5,766.8 627.5,761.9 635.5,756.2 643.5,753.2 651.5,752.3 659.5,751.4 667.5,752.1 675.5,752.3 683.5,753.2 691.5,761.5 699.5,772.2 707.5,787 715.5,803.7 723.5,817.8 731.5,827.3 739.5,830.5 747.5,830 755.5,826.6 763.5,819.6 771.5,811.5 779.5,805.7 787.5,804 795.5,804.5"/>
<polyline fill="none" stroke="#000" stroke-width="1" shape-rendering="crispEdges" points="91.5,711.9 99.5,695.1 107.5,701.6 115.5,700.4 123.5,705.3 131.5,720.8 139.5,737.1 147.5,747 155.5,755.3 163.5,750.9 171.5,747.3 179.5,742 187.5,737.1 195.5,734.4 203.5,740.8 211.5,742 219.5,731.4 227.5,727 235.5,723.1 243.5,727.8 251.5,729.3 259.5,740.2 267.5,748.2 275.5,746.4 283.5,747.3 291.5,742.4 299.5,743.1 307.5,745.2 315.5,741.1 323.5,738.1 331.5,722.2 339.5,710.5 347.5,715.1 355.5,715.4 363.5,725.7 371.5,731.4 379.5,737.6 387.5,744.7 395.5,757.1 403.5,764.2 411.5,773 419.5,781.3 427.5,785.4 435.5,781.9 443.5,771.6 451.5,772.5 459.5,778 467.5,779.6 475.5,786.3 483.5,795.2 491.5,792.5 499.5,792 507.5,770.7 515.5,762.9 523.5,767.2 531.5,772.1 539.5,770.4 547.5,773.9 555.5,774.8 563.5,771.2 571.5,769.5 579.5,771.8 587.5,772.5 595.5,772.1 603.5,771.2 611.5,763.3 619.5,754.4 627.5,741.5 635.5,740.2 643.5,739.7 651.5,744.7 659.5,749.1 667.5,753.5 675.5,756.2 683.5,758 691.5,784 699.5,816.2 707.5,855.6 715.5,866 723.5,874.6 731.5,860.2 739.5,841.7 747.5,826.6 755.5,805.7 763.5,790.6 771.5,777.1 779.5,780.1 787.5,794.8 795.5,811.5"/>
<text class="ax" x="82.4" y="42.9">161.518</text>
<text class="ax" x="82.4" y="99.6">159.630</text>
<text class="ax" x="82.4" y="156.3">157.743</text>
<text class="ax" x="82.4" y="213">155.855</text>
<text class="ax" x="82.4" y="269.7">153.967</text>
<text class="ax" x="82.4" y="326.4">152.079</text>
<text class="ax" x="82.4" y="383.1">150.191</text>
<text class="ax" x="82.4" y="439.8">148.303</text>
<text class="ax" x="82.4" y="496.5">146.415</text>
<text class="ax" x="82.4" y="553.2">144.527</text>
<text class="ax" x="82.4" y="609.9">142.639</text>
<text class="ax" x="82.4" y="689.4">0.865</text>
<text class="ax" x="82.4" y="712.71">0.663</text>
<text class="ax" x="82.4" y="736.02">0.461</text>
<text class="ax" x="82.4" y="759.33">0.259</text>
<text class="ax" x="82.4" y="782.64">0.057</text>
<text class="ax" x="82.4" y="805.95">-0.145</text>
<text class="ax" x="82.4" y="829.26">-0.347</text>
<text class="ax" x="82.4" y="852.57">-0.549</text>
<text class="ax" x="82.4" y="875.88">-0.751</text>
<text class="ax" x="82.4" y="899.19">-0.953</text>
<text x="88.6" y="31.5" style="font:12px 'Liberation Sans','Noto Sans CJK SC',sans-serif;fill:#000">美元日元</text>
<text x="136.3" y="31.5" style="font:12px 'Liberation Sans','Noto Sans CJK SC',sans-serif;fill:#ff7a14">【日线】</text>
<g stroke="#ff861c" stroke-width="0.9" fill="none"><circle cx="188.6" cy="29.5" r="4.1"/><line x1="184.5" y1="29.5" x2="192.7" y2="29.5"/><line x1="188.6" y1="25.4" x2="188.6" y2="33.6"/></g>
<g shape-rendering="crispEdges"><rect x="201.5" y="19.5" width="11" height="12" fill="#fff" stroke="#1c1c9c" stroke-width="1"/><line x1="201" y1="30.5" x2="213" y2="30.5" stroke="#1c1c9c"/><line x1="211.5" y1="19" x2="211.5" y2="32" stroke="#1c1c9c"/></g>
<polyline points="202.5,26.6 205.3,22.4 208.7,25 211,23.6" fill="none" stroke="#f01820" stroke-width="1.2"/>
<polyline points="202.5,29.2 205.6,25.6 208.7,28.6 211,26.6" fill="none" stroke="#2020e0" stroke-width="1.1"/>
<text x="216.7" y="31.8" textLength="91.1" lengthAdjust="spacingAndGlyphs" style="font:12.6px 'Liberation Sans','Noto Sans CJK SC',sans-serif;fill:#111">MA1(50,0,200,0)</text>
<text x="314.2" y="31.8" textLength="79.1" lengthAdjust="spacingAndGlyphs" style="font:12.6px 'Liberation Sans','Noto Sans CJK SC',sans-serif;fill:#111">MA50:156.231</text>
<text x="403.9" y="31.8" textLength="73.4" lengthAdjust="spacingAndGlyphs" style="font:12.6px 'Liberation Sans','Noto Sans CJK SC',sans-serif;fill:#1414a0">MA0:153.916</text>
<text x="486.7" y="31.8" textLength="87.4" lengthAdjust="spacingAndGlyphs" style="font:12.6px 'Liberation Sans','Noto Sans CJK SC',sans-serif;fill:#ff00ff">MA200:150.369</text>
<text x="583.5" y="31.8" textLength="73.6" lengthAdjust="spacingAndGlyphs" style="font:12.6px 'Liberation Sans','Noto Sans CJK SC',sans-serif;fill:#ff7a14">MA0:153.916</text>
<text x="89" y="677.8" textLength="77.4" lengthAdjust="spacingAndGlyphs" style="font:12.9px 'Liberation Sans','Noto Sans CJK SC',sans-serif;fill:#111">MACD(13,8,9)</text>
<text x="170.8" y="677.8" textLength="63.8" lengthAdjust="spacingAndGlyphs" style="font:12.9px 'Liberation Sans','Noto Sans CJK SC',sans-serif;fill:#111">DIFF:-0.225</text>
<text x="243.7" y="677.8" textLength="62.1" lengthAdjust="spacingAndGlyphs" style="font:12.9px 'Liberation Sans','Noto Sans CJK SC',sans-serif;fill:#1414a0">DEA:-0.162</text>
<text x="314.6" y="677.8" textLength="74.4" lengthAdjust="spacingAndGlyphs" style="font:12.9px 'Liberation Sans','Noto Sans CJK SC',sans-serif;fill:#ff00ff">MACD:-0.127</text>
<g><circle cx="24.8" cy="671" r="3.3" fill="#fff" stroke="#000" stroke-width="1"/><circle cx="24.8" cy="671" r="1.7" fill="#f00"/>
<line x1="30" y1="671" x2="32" y2="671" stroke="#f00" stroke-width="1"/>
<line x1="28.48" y1="674.68" x2="29.89" y2="676.09" stroke="#f00" stroke-width="1"/>
<line x1="24.8" y1="676.2" x2="24.8" y2="678.2" stroke="#f00" stroke-width="1"/>
<line x1="21.12" y1="674.68" x2="19.71" y2="676.09" stroke="#f00" stroke-width="1"/>
<line x1="19.6" y1="671" x2="17.6" y2="671" stroke="#f00" stroke-width="1"/>
<line x1="21.12" y1="667.32" x2="19.71" y2="665.91" stroke="#f00" stroke-width="1"/>
<line x1="24.8" y1="665.8" x2="24.8" y2="663.8" stroke="#f00" stroke-width="1"/>
<line x1="28.48" y1="667.32" x2="29.89" y2="665.91" stroke="#f00" stroke-width="1"/>
</g>
<rect x="0" y="18" width="15" height="213" fill="#e1e2ea"/>
<rect x="15" y="18" width="1" height="213" fill="#e6eef8"/>
<rect x="0" y="69" width="15" height="46" fill="#ff6a02"/>
<g shape-rendering="crispEdges"><line x1="0" y1="166.5" x2="15.5" y2="166.5" stroke="#f2f3f7"/><line x1="0" y1="231.5" x2="15.5" y2="231.5" stroke="#d9dde4"/></g>
<text class="sb" x="-0.3" y="35.1">分</text>
<text class="sb" x="-0.3" y="48.9">时</text>
<text class="sb" x="-0.3" y="62.4">图</text>
<text x="5.6" y="83.1" style="font:bold 10.5px 'Liberation Serif',serif;fill:#fff;text-anchor:middle">K</text>
<text class="sb" x="-0.3" y="96.8" style="fill:#fff;stroke:#fff">线</text>
<text class="sb" x="-0.3" y="111" style="fill:#fff;stroke:#fff">图</text>
<text class="sb" x="-0.3" y="133.5">闪</text>
<text class="sb" x="-0.3" y="147">电</text>
<text class="sb" x="-0.3" y="160.8">图</text>
<text class="sb" x="-0.3" y="184.5">合</text>
<text class="sb" x="-0.3" y="198">约</text>
<text class="sb" x="-0.3" y="212.2">资</text>
<text class="sb" x="-0.3" y="226">料</text>
<rect x="0" y="0" width="903" height="18" fill="#e9eaf2"/>
<g shape-rendering="crispEdges">
<line x1="0" y1="17.5" x2="903" y2="17.5" stroke="#d9dbe4"/>
<line x1="66.5" y1="0" x2="66.5" y2="18" stroke="#f5f5fa"/>
<line x1="67.5" y1="0" x2="67.5" y2="17" stroke="#dfe0e9"/>
<line x1="138.5" y1="0" x2="138.5" y2="18" stroke="#f5f5fa"/>
<line x1="139.5" y1="0" x2="139.5" y2="17" stroke="#dfe0e9"/>
<line x1="205.5" y1="0" x2="205.5" y2="18" stroke="#f5f5fa"/>
<line x1="206.5" y1="0" x2="206.5" y2="17" stroke="#dfe0e9"/>
<line x1="251.5" y1="0" x2="251.5" y2="18" stroke="#f5f5fa"/>
<line x1="252.5" y1="0" x2="252.5" y2="17" stroke="#dfe0e9"/>
<line x1="298.5" y1="0" x2="298.5" y2="18" stroke="#f5f5fa"/>
<line x1="299.5" y1="0" x2="299.5" y2="17" stroke="#dfe0e9"/>
<line x1="346.5" y1="0" x2="346.5" y2="18" stroke="#f5f5fa"/>
<line x1="347.5" y1="0" x2="347.5" y2="17" stroke="#dfe0e9"/>
<line x1="392.5" y1="0" x2="392.5" y2="18" stroke="#f5f5fa"/>
<line x1="393.5" y1="0" x2="393.5" y2="17" stroke="#dfe0e9"/>
<line x1="421.5" y1="0" x2="421.5" y2="18" stroke="#f5f5fa"/>
<line x1="422.5" y1="0" x2="422.5" y2="17" stroke="#dfe0e9"/>
<line x1="448.5" y1="0" x2="448.5" y2="18" stroke="#f5f5fa"/>
<line x1="449.5" y1="0" x2="449.5" y2="17" stroke="#dfe0e9"/>
<line x1="476.5" y1="0" x2="476.5" y2="18" stroke="#f5f5fa"/>
<line x1="477.5" y1="0" x2="477.5" y2="17" stroke="#dfe0e9"/>
<line x1="504.5" y1="0" x2="504.5" y2="18" stroke="#f5f5fa"/>
<line x1="505.5" y1="0" x2="505.5" y2="17" stroke="#dfe0e9"/>
<line x1="532.5" y1="0" x2="532.5" y2="18" stroke="#f5f5fa"/>
<line x1="533.5" y1="0" x2="533.5" y2="17" stroke="#dfe0e9"/>
<line x1="560.5" y1="0" x2="560.5" y2="18" stroke="#f5f5fa"/>
<line x1="561.5" y1="0" x2="561.5" y2="17" stroke="#dfe0e9"/>
<line x1="588.5" y1="0" x2="588.5" y2="18" stroke="#f5f5fa"/>
<line x1="589.5" y1="0" x2="589.5" y2="17" stroke="#dfe0e9"/>
<line x1="616.5" y1="0" x2="616.5" y2="18" stroke="#f5f5fa"/>
<line x1="617.5" y1="0" x2="617.5" y2="17" stroke="#dfe0e9"/>
<line x1="644.5" y1="0" x2="644.5" y2="18" stroke="#f5f5fa"/>
<line x1="645.5" y1="0" x2="645.5" y2="17" stroke="#dfe0e9"/>
<line x1="672.5" y1="0" x2="672.5" y2="18" stroke="#f5f5fa"/>
<line x1="673.5" y1="0" x2="673.5" y2="17" stroke="#dfe0e9"/>
<line x1="743.5" y1="0" x2="743.5" y2="18" stroke="#f5f5fa"/>
<line x1="744.5" y1="0" x2="744.5" y2="17" stroke="#dfe0e9"/>
<line x1="772.5" y1="0" x2="772.5" y2="18" stroke="#f5f5fa"/>
<line x1="773.5" y1="0" x2="773.5" y2="17" stroke="#dfe0e9"/>
<line x1="819.5" y1="0" x2="819.5" y2="18" stroke="#f5f5fa"/>
<line x1="820.5" y1="0" x2="820.5" y2="17" stroke="#dfe0e9"/>
<line x1="866.5" y1="0" x2="866.5" y2="18" stroke="#f5f5fa"/>
<line x1="867.5" y1="0" x2="867.5" y2="17" stroke="#dfe0e9"/>
</g>
<path d="M10.3,3.3 L15.8,-2.2 L15.8,0.3 C21.6,0.3 24.8,4 23.9,10 L22.4,10 C22.2,6.6 20.2,5 15.8,5 L15.8,8.6 Z" fill="#36424d"/>
<text class="tb" x="26.4" y="9">返回</text>
<path d="M80.8,4.7 L87.5,-1.9 L94.2,4.7 L92.3,4.7 L92.3,10.6 L89.2,10.6 L89.2,6.6 L86,6.6 L86,10.6 L82.9,10.6 L82.9,4.7 Z" fill="#36424d"/>
<text class="tb" x="98.1" y="9">首页</text>
<path d="M175,-1.2 A6.8,6.8 0 1 0 177.4,6.4" fill="none" stroke="#36424d" stroke-width="1.5"/>
<path d="M175.4,3.4 L181.4,3.4 L178.4,7.8 Z" fill="#36424d"/>
<g fill="#36424d"><rect x="219.5" y="7" width="2.2" height="4.6"/><rect x="224.2" y="3.6" width="2.2" height="8"/><rect x="229.4" y="5.6" width="2.2" height="6"/><rect x="234.2" y="-1" width="2.6" height="12.6"/></g>
<polyline points="219.8,5.4 225.2,0 230.2,3.2 236.4,-3" fill="none" stroke="#36424d" stroke-width="1.5"/>
<g fill="#36424d"><rect x="265.5" y="1.4" width="3" height="5.6"/><rect x="266.6" y="-1" width="0.9" height="10"/><rect x="271.4" y="-1" width="3" height="7.6"/><rect x="272.5" y="-3" width="0.9" height="14.4"/><rect x="277" y="2.4" width="3" height="5.4"/><rect x="278.1" y="0" width="0.9" height="10"/><rect x="282.6" y="1.4" width="3" height="6.6"/><rect x="283.7" y="-1" width="0.9" height="11.4"/></g>
<text x="309.3" y="9.5" style="font:16px 'Liberation Sans','Noto Sans CJK SC',sans-serif;letter-spacing:.4px;fill:#3a4550">tick</text>
<text class="tn" x="359.6" y="8.9" textLength="5.8" lengthAdjust="spacingAndGlyphs">5</text>
<text class="tb" x="365.4" y="9">日</text>
<text class="tn" x="403.9" y="8.9" textLength="5.8" lengthAdjust="spacingAndGlyphs">5</text>
<text class="tn" x="428.5" y="8.9" textLength="12.5" lengthAdjust="spacingAndGlyphs">15</text>
<text class="tn" x="455.9" y="8.9" textLength="13.2" lengthAdjust="spacingAndGlyphs">30</text>
<text class="tn" x="483.8" y="8.9" textLength="13.5" lengthAdjust="spacingAndGlyphs">60</text>
<text class="tn" x="510.7" y="8.9" textLength="15.7" lengthAdjust="spacingAndGlyphs">2H</text>
<text class="tn" x="538.6" y="8.9" textLength="16.1" lengthAdjust="spacingAndGlyphs">4H</text>
<text class="tb" x="567.7" y="9">日</text>
<text class="tb" x="595.3" y="9">周</text>
<text class="tb" x="623.5" y="9">月</text>
<text class="tb" x="652.1" y="9">年</text>
<g fill="#2f3a45"><rect x="687.2" y="0" width="13.8" height="2.2" rx="1"/><rect x="687.2" y="4.1" width="13.8" height="2.2" rx="1"/><rect x="687.2" y="8.2" width="13.8" height="2.2" rx="1"/></g>
<text class="tb" x="704.4" y="9">更多</text>
<text x="750" y="8.7" style="font:bold 14px 'DejaVu Sans',sans-serif;fill:#2f3a45">ƒ</text>
<text x="756.9" y="12.3" style="font:bold 15.5px 'Liberation Sans','Noto Sans CJK SC',sans-serif;fill:#2f3a45">×</text>
<circle cx="794.8" cy="3.2" r="6.6" fill="none" stroke="#4a5560" stroke-width="1.2"/>
<line x1="799.6" y1="8" x2="802.8" y2="11.4" stroke="#4a5560" stroke-width="1.6"/>
<line x1="791.4" y1="3.2" x2="798.2" y2="3.2" stroke="#4a5560" stroke-width="1.2"/>
<circle cx="842" cy="3.2" r="6.6" fill="none" stroke="#4a5560" stroke-width="1.2"/>
<line x1="846.8" y1="8" x2="850" y2="11.4" stroke="#4a5560" stroke-width="1.6"/>
<line x1="838.6" y1="3.2" x2="845.4" y2="3.2" stroke="#4a5560" stroke-width="1.2"/>
<line x1="842" y1="-0.2" x2="842" y2="6.6" stroke="#4a5560" stroke-width="1.2"/>
<path d="M884.6,8.6 L886,4.4 L893.6,-3.2 L897,0 L889,7.6 Z" fill="#2f3a45"/>
<line x1="882.4" y1="11" x2="896.8" y2="11" stroke="#2f3a45" stroke-width="1.2"/>
<g shape-rendering="crispEdges">
<rect x="16.5" y="919.5" width="69" height="19" fill="#fff" stroke="#d4dce6"/>
</g>
<text x="30.6" y="934.9" style="font:bold 12px 'Liberation Sans','Noto Sans CJK SC',sans-serif;fill:#ff7a14">日线</text>
<path d="M60.8,933.8 L64.8,926 L68.8,933.8 Z" fill="#ff7a14"/>
<line x1="235.5" y1="920" x2="235.5" y2="925" stroke="#cdd6df" shape-rendering="crispEdges"/>
<text class="dt" x="237" y="931.8">2025/11</text>
<line x1="395.5" y1="920" x2="395.5" y2="925" stroke="#cdd6df" shape-rendering="crispEdges"/>
<text class="dt" x="397" y="931.8">2025/12</text>
<line x1="571.3" y1="920" x2="571.3" y2="925" stroke="#cdd6df" shape-rendering="crispEdges"/>
<text class="dt" x="572.8" y="931.8">2026/01</text>
<line x1="739.7" y1="920" x2="739.7" y2="925" stroke="#cdd6df" shape-rendering="crispEdges"/>
<text class="dt" x="741.2" y="931.8">2026/02</text>
<rect x="16" y="940" width="39" height="14.5" fill="#ff6a08"/>
<g shape-rendering="crispEdges">
<line x1="55.5" y1="940" x2="55.5" y2="955" stroke="#d4dbe3"/>
<line x1="95.5" y1="940" x2="95.5" y2="955" stroke="#d4dbe3"/>
<line x1="153.5" y1="940" x2="153.5" y2="955" stroke="#d4dbe3"/>
<line x1="181.5" y1="940" x2="181.5" y2="955" stroke="#d4dbe3"/>
<line x1="220.5" y1="940" x2="220.5" y2="955" stroke="#d4dbe3"/>
<line x1="261.5" y1="940" x2="261.5" y2="955" stroke="#d4dbe3"/>
<line x1="294.5" y1="940" x2="294.5" y2="955" stroke="#d4dbe3"/>
<line x1="335.5" y1="940" x2="335.5" y2="955" stroke="#d4dbe3"/>
<line x1="369.5" y1="940" x2="369.5" y2="955" stroke="#d4dbe3"/>
<line x1="402.5" y1="940" x2="402.5" y2="955" stroke="#d4dbe3"/>
<line x1="443.5" y1="940" x2="443.5" y2="955" stroke="#d4dbe3"/>
<line x1="476.5" y1="940" x2="476.5" y2="955" stroke="#d4dbe3"/>
<line x1="505.5" y1="940" x2="505.5" y2="955" stroke="#d4dbe3"/>
<line x1="539.5" y1="940" x2="539.5" y2="955" stroke="#d4dbe3"/>
<line x1="579.5" y1="940" x2="579.5" y2="955" stroke="#d4dbe3"/>
</g>
<text class="tabc" x="36" y="951.6" style="fill:#fff">指标</text>
<text class="tabc" x="75.5" y="951.6" style="fill:#111">模板</text>
<text x="124.5" y="951.6" style="font:12px 'Liberation Mono','WenQuanYi Zen Hei','Noto Sans CJK SC',monospace;fill:#ff7a14;text-anchor:middle"><tspan style="font-size:10px">VIP</tspan>指标</text>
<text class="tab" x="167.5" y="951">MA</text>
<text class="tab" x="201" y="951">MACD</text>
<text class="tab" x="241" y="951">BOLL</text>
<text class="tab" x="278" y="951">VOL</text>
<text class="tab" x="315" y="951">BIAS</text>
<text class="tab" x="352.5" y="951">CCI</text>
<text class="tab" x="386" y="951">KDJ</text>
<text class="tab" x="423" y="951">LW&amp;</text>
<text class="tab" x="460" y="951">RSI</text>
<text class="tab" x="491" y="951">CR</text>
<text class="tab" x="522.5" y="951">PSY</text>
<text class="tabc" x="559.5" y="951.6" style="fill:#111">设置</text>
<g shape-rendering="crispEdges">
<line x1="0" y1="965.5" x2="42" y2="965.5" stroke="#d4dbe3"/><line x1="42.5" y1="964" x2="42.5" y2="969" stroke="#d4dbe3"/><line x1="42" y1="964.5" x2="738" y2="964.5" stroke="#d4dbe3"/>
<rect x="738" y="955.5" width="165" height="8.5" fill="#b7b7ba"/>
</g>
<path d="M816,963 L827.6,956.6 L839,963 Z" fill="#6c6c6e"/>
<text x="776.4" y="944" style="font:29px 'Liberation Sans','Noto Sans CJK SC',sans-serif;letter-spacing:2.8px;fill:#c6b09a;stroke:#c6b09a;stroke-width:.7px;opacity:.9">FX678</text>
<text x="775.2" y="942.8" style="font:29px 'Liberation Sans','Noto Sans CJK SC',sans-serif;letter-spacing:2.8px;fill:#dde8f6;stroke:#dde8f6;stroke-width:.8px">FX678</text>
</svg>
</body></html>
